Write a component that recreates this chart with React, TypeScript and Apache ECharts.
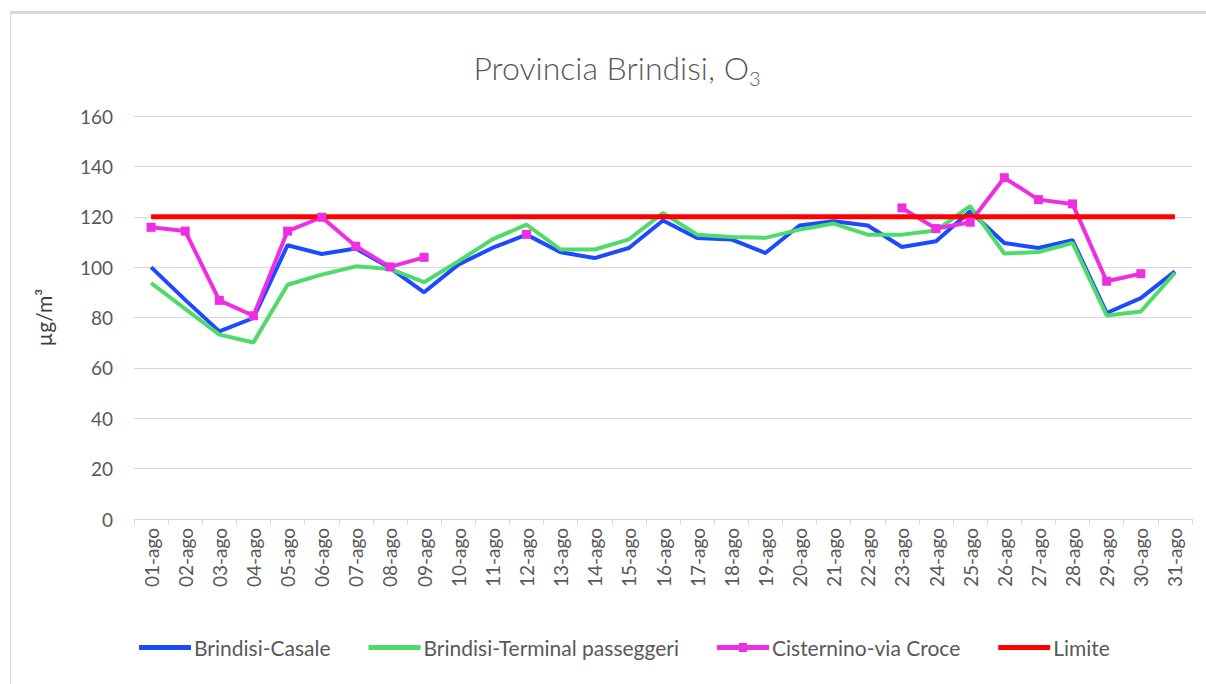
import React, { useEffect, useRef } from "react";
import * as echarts from "echarts";

const categories = [
  "01-ago","02-ago","03-ago","04-ago","05-ago","06-ago","07-ago","08-ago","09-ago","10-ago",
  "11-ago","12-ago","13-ago","14-ago","15-ago","16-ago","17-ago","18-ago","19-ago","20-ago",
  "21-ago","22-ago","23-ago","24-ago","25-ago","26-ago","27-ago","28-ago","29-ago","30-ago","31-ago",
];

const casale = [
  100, 87, 74.5, 79.8, 108.7, 105.2, 107.4, 99.7, 90, 101,
  107.6, 112.9, 105.9, 103.6, 107.6, 118.5, 111.6, 111, 105.6, 116.5,
  118.2, 116.5, 108, 110.3, 122.2, 109.6, 107.6, 110.7, 81.8, 87.7, 98.3,
];

const terminal = [
  93.7, 83.4, 73.2, 70.1, 93, 97, 100.3, 99.3, 94, 102.3,
  111, 116.9, 107, 107, 111, 121.5, 112.9, 112, 111.6, 114.9,
  117.3, 112.9, 112.9, 114.5, 124.2, 105.4, 106, 109.6, 80.8, 82.4, 97.7,
];

const cisternino: (number | null)[] = [
  115.8, 114.3, 86.8, 80.7, 114.3, 119.8, 108.3, 100.1, 103.9, null,
  null, 113, null, null, null, null, null, null, null, null,
  null, null, 123.5, 115.3, 117.8, 135.5, 126.8, 125.1, 94.4, 97.4, null,
];

const limite = categories.map(() => 120);

const yTicks = { min: 0, max: 160, interval: 20 };

const FONT = "Lato, 'Open Sans', sans-serif";

const LINE_ICON = "path://M0,0 L0.001,0 L0,0 Z M0,2 H52 V7 H0 Z M52,9 L51.999,9 L52,9 Z";
const MARK_ICON = "path://M0,2 H22 V0 H30 V2 H52 V7 H30 V9 H22 V7 H0 Z";

export default function App() {
  const ref = useRef<HTMLDivElement>(null);

  useEffect(() => {
    if (!ref.current) return;
    const chart = echarts.init(ref.current, undefined, { renderer: "svg" });
    chart.setOption({
      animation: false,
      backgroundColor: "transparent",
      textStyle: { fontFamily: FONT },
      title: {
        text: "{t|Provincia Brindisi, O}{sub|3}",
        left: 612,
        top: 46,
        textAlign: "center",
        textStyle: {
          fontSize: 32,
          fontWeight: 300,
          color: "#595959",
          fontFamily: FONT,
          rich: {
            t: { fontSize: 32, fontWeight: 300, color: "#595959", verticalAlign: "top", lineHeight: 38, fontFamily: FONT },
            sub: { fontSize: 20, fontWeight: 300, color: "#595959", verticalAlign: "top", lineHeight: 22, padding: [17, 0, 0, 0], fontFamily: FONT },
          },
        },
      },
      legend: {
        bottom: 21,
        left: 134,
        itemWidth: 52,
        itemHeight: 9,
        itemGap: 38,
        textStyle: { fontSize: 21, color: "#595959", fontFamily: FONT, padding: [0, 0, 0, -2] },
        data: [
          { name: "Brindisi-Casale", icon: LINE_ICON },
          { name: "Brindisi-Terminal passeggeri", icon: LINE_ICON },
          { name: "Cisternino-via Croce", icon: MARK_ICON },
          { name: "Limite", icon: LINE_ICON },
        ],
      },
      grid: { left: 134, right: 14, top: 116, bottom: 165 },
      xAxis: {
        type: "category",
        data: categories,
        boundaryGap: true,
        axisLine: { lineStyle: { color: "#d9d9d9", width: 1 } },
        axisTick: { show: true, length: 6, lineStyle: { color: "#d9d9d9" } },
        axisLabel: { rotate: 90, interval: 0, color: "#595959", fontSize: 19, margin: 9, fontFamily: FONT },
      },
      yAxis: {
        type: "value",
        min: yTicks.min,
        max: yTicks.max,
        interval: yTicks.interval,
        name: "µg/m³",
        nameLocation: "middle",
        nameRotate: 90,
        nameGap: 80,
        nameTextStyle: { fontSize: 21, color: "#404040", fontFamily: FONT },
        axisLine: { show: false },
        axisTick: { show: false },
        splitLine: { lineStyle: { color: "#d9d9d9", width: 1 } },
        axisLabel: { color: "#595959", fontSize: 19, margin: 21, fontFamily: FONT },
      },
      series: [
        {
          name: "Brindisi-Casale",
          type: "line",
          data: casale,
          symbol: "none",
          lineStyle: { color: "#1C4BFF", width: 4 },
          itemStyle: { color: "#1C4BFF" },
        },
        {
          name: "Brindisi-Terminal passeggeri",
          type: "line",
          data: terminal,
          symbol: "none",
          lineStyle: { color: "#4FDB6A", width: 4 },
          itemStyle: { color: "#4FDB6A" },
        },
        {
          name: "Cisternino-via Croce",
          type: "line",
          data: cisternino,
          connectNulls: false,
          symbol: "rect",
          symbolSize: 9,
          showSymbol: true,
          lineStyle: { color: "#EE2EE0", width: 4 },
          itemStyle: { color: "#EE2EE0" },
        },
        {
          name: "Limite",
          type: "line",
          data: limite,
          symbol: "none",
          lineStyle: { color: "#FF0000", width: 5 },
          itemStyle: { color: "#FF0000" },
        },
      ],
    });
    return () => chart.dispose();
  }, []);

  return (
    <div style={{ position: "absolute", left: 0, top: 0, width: 1206, height: 684, background: "#fff", overflow: "hidden" }}>
      <div
        style={{
          position: "absolute",
          left: 10,
          top: 11,
          width: 1300,
          height: 800,
          borderTop: "3px solid #d9d9d9",
          borderLeft: "1px solid #d9d9d9",
          boxSizing: "border-box",
        }}
      />
      <div ref={ref} style={{ position: "absolute", left: 0, top: 0, width: 1206, height: 684 }} />
    </div>
  );
}
